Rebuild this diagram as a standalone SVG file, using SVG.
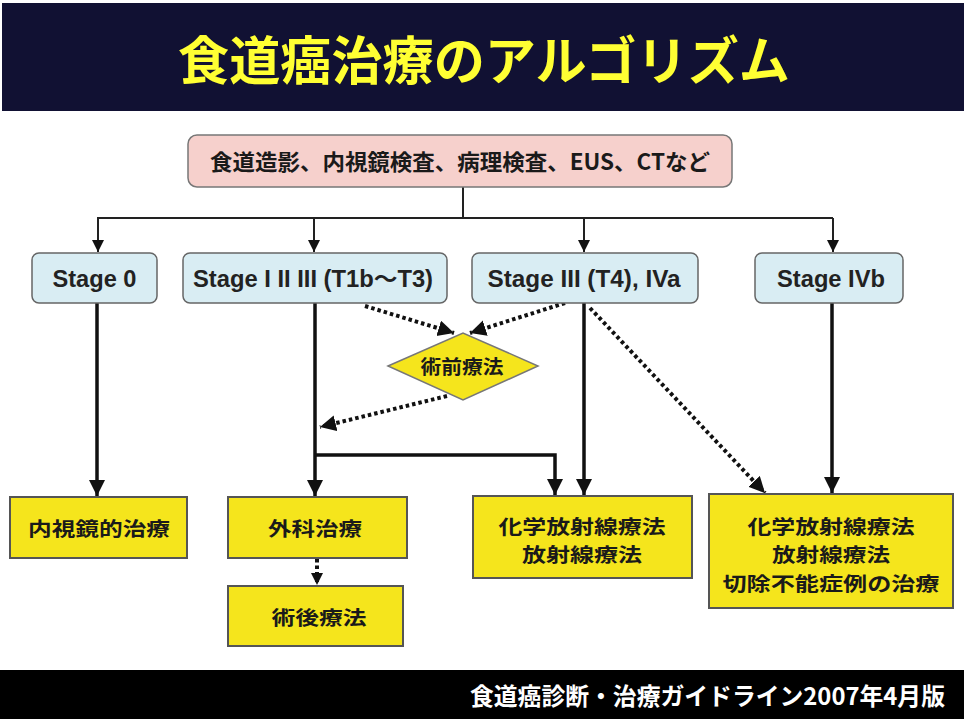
<svg xmlns="http://www.w3.org/2000/svg" width="964" height="719" viewBox="0 0 964 719">
<defs>
<style>
.jp{font-family:"Noto Sans CJK JP","Noto Sans CJK SC",sans-serif;font-weight:bold;}
.en{font-family:"Liberation Sans","Noto Sans CJK JP",sans-serif;font-weight:bold;font-size:23px;fill:#222;text-anchor:middle;}
.stage{fill:#d9edf3;stroke:#666;stroke-width:1.5;}
.treat{fill:#f5e51c;stroke:#555;stroke-width:2;}
.thin{fill:none;stroke:#222;stroke-width:2;}
.thick{fill:none;stroke:#111;stroke-width:3.5;}
.dot{fill:none;stroke:#111;stroke-width:4;stroke-dasharray:3.5 3;}
.t{font-size:19.5px;fill:#1a1a1a;text-anchor:middle;}
</style>
<marker id="a1" markerUnits="userSpaceOnUse" markerWidth="14" markerHeight="14" refX="12" refY="6" orient="auto"><path d="M0,0 L12,6 L0,12 z" fill="#111"/></marker>
<marker id="a2" markerUnits="userSpaceOnUse" markerWidth="18" markerHeight="18" refX="16" refY="8" orient="auto"><path d="M0,0 L16,8 L0,16 z" fill="#111"/></marker>
</defs>
<rect x="0" y="0" width="964" height="719" fill="#ffffff"/>
<g id="header">
<rect x="2" y="3" width="962" height="108" fill="#111133"/>
<text class="jp" x="484" y="80" font-size="52" fill="#ffff33" text-anchor="middle" textLength="612" lengthAdjust="spacingAndGlyphs">食道癌治療のアルゴリズム</text>
</g>
<g id="footer">
<rect x="0" y="670" width="964" height="49" fill="#000"/>
<text class="jp" x="945" y="705" font-size="24" fill="#fff" text-anchor="end" textLength="475" lengthAdjust="spacingAndGlyphs">食道癌診断・治療ガイドライン2007年4月版</text>
</g>
<g id="connectors">
<path class="thin" d="M463,187 V218 M97,218 H833"/>
<path class="thin" d="M98,218 V252" marker-end="url(#a1)"/>
<path class="thin" d="M314,218 V252" marker-end="url(#a1)"/>
<path class="thin" d="M584,218 V252" marker-end="url(#a1)"/>
<path class="thin" d="M833,218 V252" marker-end="url(#a1)"/>
<path class="thick" d="M97,303 V496" marker-end="url(#a2)"/>
<path class="thick" d="M315,303 V496" marker-end="url(#a2)"/>
<path class="thick" d="M315,455 H555 V495" marker-end="url(#a2)"/>
<path class="thick" d="M584,303 V495" marker-end="url(#a2)"/>
<path class="thick" d="M832,303 V493" marker-end="url(#a2)"/>
<path class="dot" d="M365,306 L454,333" marker-end="url(#a2)"/>
<path class="dot" d="M565,303 L470,333" marker-end="url(#a2)"/>
<path class="dot" d="M447,396 L320,427" marker-end="url(#a2)"/>
<path class="dot" d="M590,308 L765,493" marker-end="url(#a2)"/>
<path class="dot" d="M317,559 V585" marker-end="url(#a1)"/>
</g>
<g id="exam">
<rect x="188" y="135" width="544" height="52" rx="9" fill="#f6d0cc" stroke="#777" stroke-width="1.5"/>
<text class="jp" x="460" y="170" font-size="22" fill="#1a1a1a" text-anchor="middle" textLength="500" lengthAdjust="spacingAndGlyphs">食道造影、内視鏡検査、病理検査、EUS、CTなど</text>
</g>
<g id="stage0">
<rect class="stage" x="32" y="253" width="125" height="50" rx="7"/>
<text class="en" x="94.5" y="287" textLength="84" lengthAdjust="spacingAndGlyphs">Stage 0</text>
</g>
<g id="stage123">
<rect class="stage" x="183" y="253" width="264" height="50" rx="7"/>
<text class="en" x="313" y="287" textLength="240" lengthAdjust="spacingAndGlyphs">Stage I II III (T1b～T3)</text>
</g>
<g id="stage3t4">
<rect class="stage" x="472" y="253" width="226" height="50" rx="7"/>
<text class="en" x="584" y="287" textLength="193" lengthAdjust="spacingAndGlyphs">Stage III (T4), IVa</text>
</g>
<g id="stage4b">
<rect class="stage" x="755" y="253" width="148" height="50" rx="7"/>
<text class="en" x="831" y="287" textLength="108" lengthAdjust="spacingAndGlyphs">Stage IVb</text>
</g>
<g id="neoadjuvant">
<polygon points="388,366 463,333 538,366 463,400" fill="#f5e51c" stroke="#777" stroke-width="1.5"/>
<text class="jp t" x="462" y="374" textLength="83" lengthAdjust="spacingAndGlyphs">術前療法</text>
</g>
<g id="endoscopic">
<rect class="treat" x="10" y="497" width="177" height="61"/>
<text class="jp t" x="99" y="536" textLength="142" lengthAdjust="spacingAndGlyphs">内視鏡的治療</text>
</g>
<g id="surgery">
<rect class="treat" x="228" y="497" width="179" height="61"/>
<text class="jp t" x="315" y="536" textLength="94" lengthAdjust="spacingAndGlyphs">外科治療</text>
</g>
<g id="postop">
<rect class="treat" x="228" y="586" width="175" height="60"/>
<text class="jp t" x="319" y="625" textLength="95" lengthAdjust="spacingAndGlyphs">術後療法</text>
</g>
<g id="chemo">
<rect class="treat" x="473" y="496" width="219" height="82"/>
<text class="jp t" x="582" y="533.5" textLength="167" lengthAdjust="spacingAndGlyphs">化学放射線療法</text>
<text class="jp t" x="582" y="562" textLength="120" lengthAdjust="spacingAndGlyphs">放射線療法</text>
</g>
<g id="unresectable">
<rect class="treat" x="709" y="494" width="244" height="114"/>
<text class="jp t" x="831" y="533.5" textLength="167" lengthAdjust="spacingAndGlyphs">化学放射線療法</text>
<text class="jp t" x="831" y="562" textLength="118" lengthAdjust="spacingAndGlyphs">放射線療法</text>
<text class="jp t" x="831" y="590.5" textLength="217" lengthAdjust="spacingAndGlyphs">切除不能症例の治療</text>
</g>
</svg>
